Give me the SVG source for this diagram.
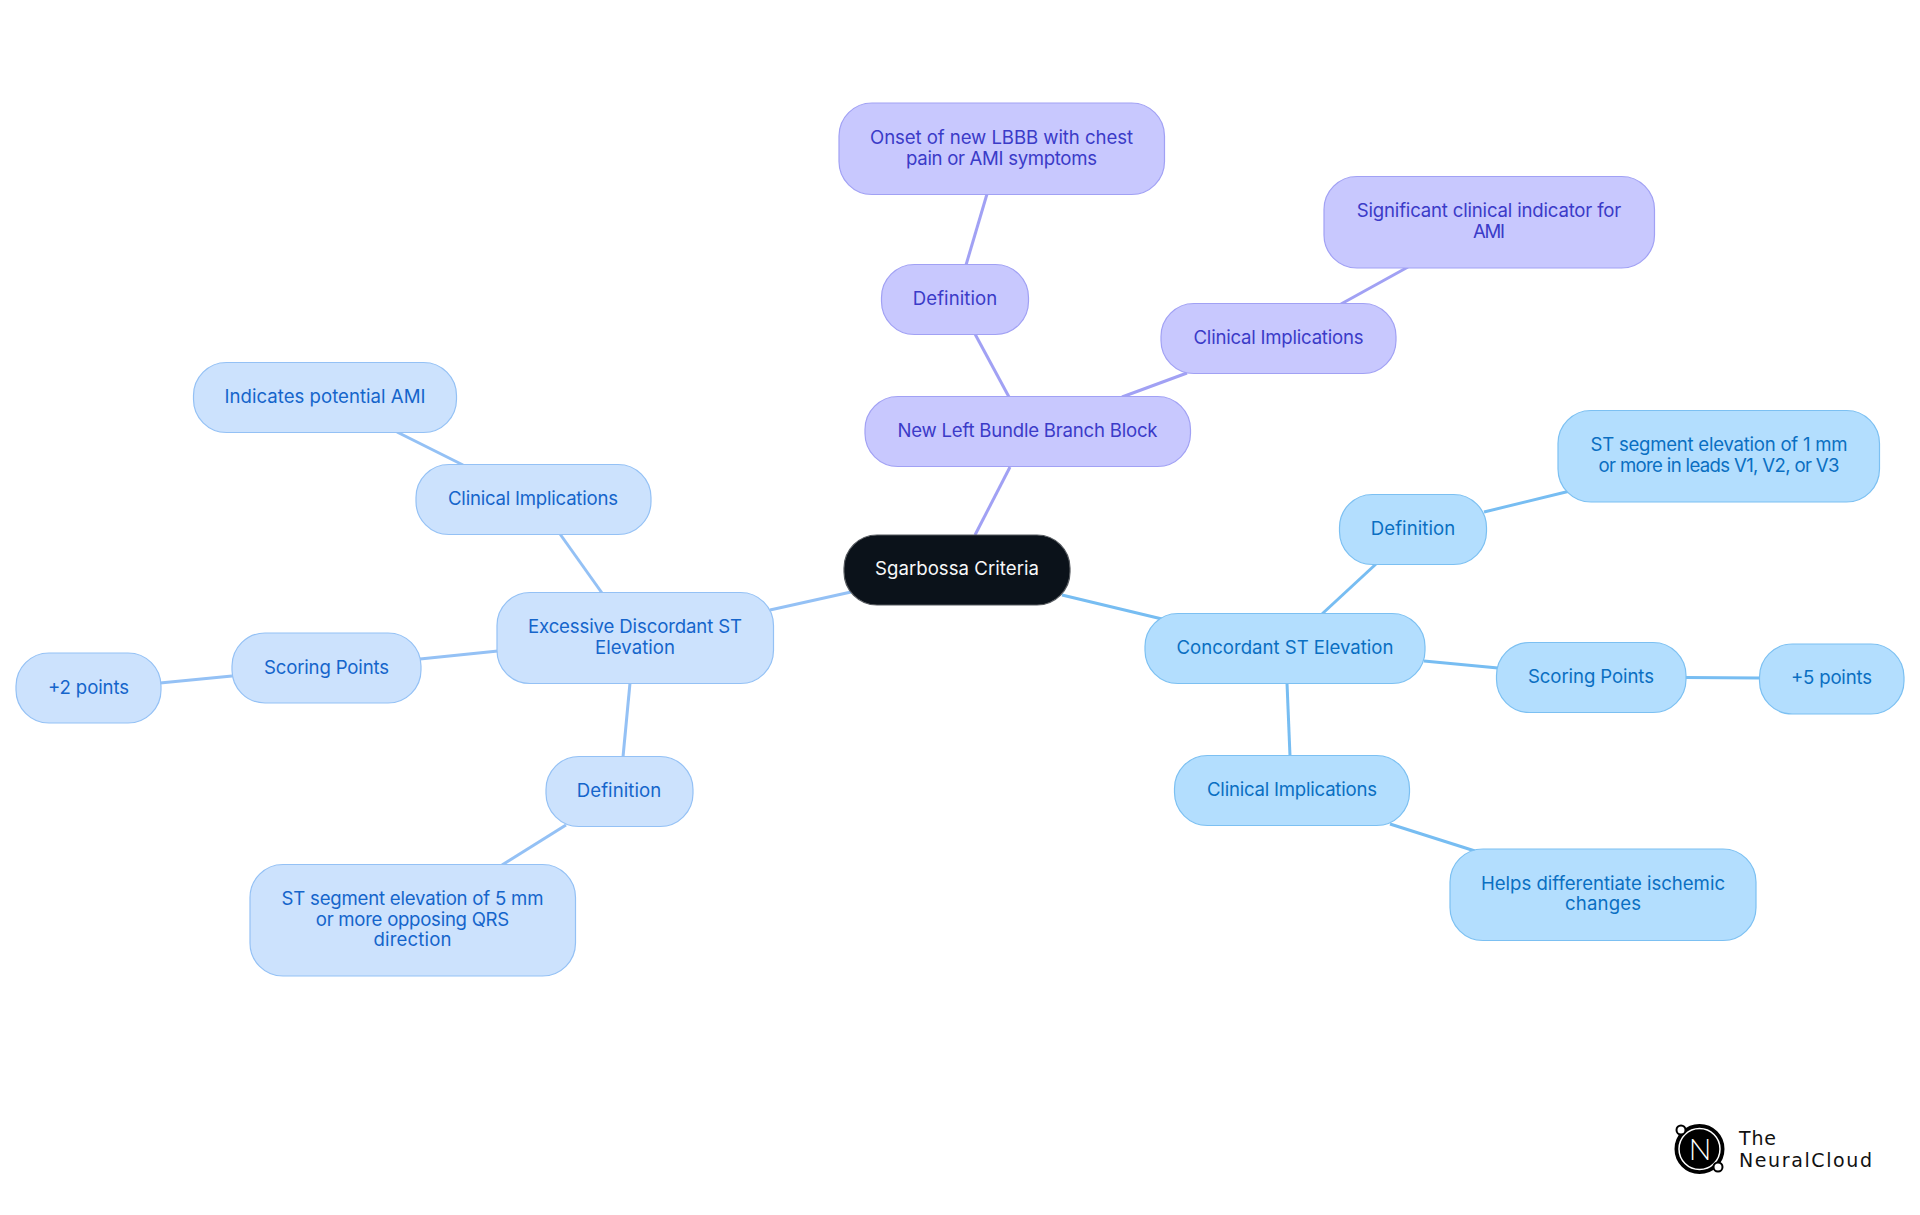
<svg xmlns="http://www.w3.org/2000/svg" width="1920" height="1215" viewBox="0 0 1920 1215">
<style>
text{font-family:"Inter","Noto Sans",sans-serif;font-size:18.6px;text-anchor:middle}
.n rect{stroke-width:1.2}
.p rect{fill:#c8c8fe;stroke:#a1a1f4}.p text{fill:#3b3bc8}
.c rect{fill:#b3defe;stroke:#7cc0f2}.c text{fill:#0a6fc2}
.e rect{fill:#cce2fd;stroke:#94c1f5}.e text{fill:#1565cb}
.r rect{fill:#0b121a;stroke:#55595e}.r text{fill:#f7f8f9}
#connectors line{stroke-width:3;fill:none}
.lp{stroke:#a1a1f4}.lc{stroke:#77bdf2}.le{stroke:#94c1f5}
.logo{fill:#111;font-family:"DejaVu Sans","Lato",sans-serif;font-size:19px}
</style>
<rect width="1920" height="1215" fill="#fff"/>
<g id="connectors">
<line class="lp" x1="975" y1="535" x2="1010" y2="467"/>
<line class="lp" x1="1009" y1="397" x2="975" y2="334"/>
<line class="lp" x1="966" y1="265" x2="987" y2="194"/>
<line class="lp" x1="1122" y1="397" x2="1187" y2="373"/>
<line class="lp" x1="1341" y1="304" x2="1408" y2="267"/>
<line class="lc" x1="1062" y1="595" x2="1162" y2="619"/>
<line class="lc" x1="1322" y1="614" x2="1376" y2="564"/>
<line class="lc" x1="1484" y1="512" x2="1570" y2="491"/>
<line class="lc" x1="1424" y1="661" x2="1498" y2="668"/>
<line class="lc" x1="1685" y1="677.500" x2="1760" y2="678"/>
<line class="lc" x1="1287" y1="683" x2="1290" y2="756"/>
<line class="lc" x1="1390" y1="824" x2="1475" y2="851"/>
<line class="le" x1="851" y1="592" x2="770" y2="610"/>
<line class="le" x1="602" y1="593" x2="560" y2="534"/>
<line class="le" x1="463" y1="465" x2="397" y2="432"/>
<line class="le" x1="498" y1="651" x2="420" y2="659"/>
<line class="le" x1="232" y1="676" x2="160" y2="683"/>
<line class="le" x1="630" y1="683" x2="623" y2="757"/>
<line class="le" x1="566" y1="825" x2="502" y2="865"/>
</g>
<g id="root" class="n r"><rect x="844" y="535" width="226" height="70" rx="33"/><text x="957" y="575" textLength="164">Sgarbossa Criteria</text></g>
<g id="nlbbb" class="n p"><rect x="865" y="396.500" width="325.500" height="70" rx="33"/><text x="1027.500" y="437" textLength="260">New Left Bundle Branch Block</text></g>
<g id="nlbbb-def" class="n p"><rect x="881.500" y="264.500" width="147" height="70" rx="33"/><text x="955" y="305" textLength="84.500">Definition</text></g>
<g id="nlbbb-def-1" class="n p"><rect x="839" y="103" width="325.500" height="91.500" rx="33"/><text x="1001.500" y="144" textLength="263">Onset of new LBBB with chest</text><text x="1001.500" y="165" textLength="191">pain or AMI symptoms</text></g>
<g id="nlbbb-clin" class="n p"><rect x="1161" y="303.500" width="235" height="70" rx="33"/><text x="1278.500" y="344" textLength="170">Clinical Implications</text></g>
<g id="nlbbb-clin-1" class="n p"><rect x="1324" y="176.500" width="330.500" height="91.500" rx="33"/><text x="1489" y="217" textLength="264.500">Significant clinical indicator for</text><text x="1489" y="238" textLength="32">AMI</text></g>
<g id="concordant" class="n c"><rect x="1145" y="613.500" width="280" height="70" rx="33"/><text x="1285" y="654" textLength="217">Concordant ST Elevation</text></g>
<g id="conc-def" class="n c"><rect x="1339.500" y="494.500" width="147" height="70" rx="33"/><text x="1413" y="535" textLength="84.500">Definition</text></g>
<g id="conc-def-1" class="n c"><rect x="1558" y="410.500" width="321.500" height="91.500" rx="33"/><text x="1719" y="451" textLength="257">ST segment elevation of 1 mm</text><text x="1719" y="472" textLength="241">or more in leads V1, V2, or V3</text></g>
<g id="conc-score" class="n c"><rect x="1496.500" y="642.500" width="189.500" height="70" rx="33"/><text x="1591" y="683" textLength="126">Scoring Points</text></g>
<g id="conc-score-1" class="n c"><rect x="1759.500" y="644" width="144.500" height="70" rx="33"/><text x="1831.500" y="684" textLength="81">+5 points</text></g>
<g id="conc-clin" class="n c"><rect x="1174.500" y="755.500" width="235" height="70" rx="33"/><text x="1292" y="796" textLength="170">Clinical Implications</text></g>
<g id="conc-clin-1" class="n c"><rect x="1450" y="849" width="306" height="91.500" rx="33"/><text x="1603" y="890" textLength="244">Helps differentiate ischemic</text><text x="1603" y="910" textLength="76">changes</text></g>
<g id="excessive" class="n e"><rect x="497" y="592.500" width="276.500" height="91" rx="33"/><text x="635" y="633" textLength="214">Excessive Discordant ST</text><text x="635" y="654" textLength="80">Elevation</text></g>
<g id="exc-clin" class="n e"><rect x="416" y="464.500" width="235" height="70" rx="33"/><text x="533" y="505" textLength="170">Clinical Implications</text></g>
<g id="exc-clin-1" class="n e"><rect x="193.500" y="362.500" width="263" height="70" rx="33"/><text x="325" y="403" textLength="201">Indicates potential AMI</text></g>
<g id="exc-score" class="n e"><rect x="232" y="633" width="189" height="70" rx="33"/><text x="326.500" y="674" textLength="125">Scoring Points</text></g>
<g id="exc-score-1" class="n e"><rect x="16" y="653" width="145" height="70" rx="33"/><text x="88.500" y="694" textLength="81">+2 points</text></g>
<g id="exc-def" class="n e"><rect x="546" y="756.500" width="147" height="70" rx="33"/><text x="619" y="797" textLength="84.500">Definition</text></g>
<g id="exc-def-1" class="n e"><rect x="250" y="864.500" width="325.500" height="111.500" rx="33"/><text x="412.500" y="905" textLength="262">ST segment elevation of 5 mm</text><text x="412.500" y="926" textLength="193.500">or more opposing QRS</text><text x="412.500" y="946" textLength="78">direction</text></g>
<g id="logo">
<circle cx="1699.500" cy="1149" r="24" fill="#000" stroke="#000" stroke-width="2"/>
<circle cx="1699.500" cy="1149" r="20.500" fill="#000" stroke="#fff" stroke-width="1.500"/>
<circle cx="1681" cy="1130" r="4.500" fill="#fff" stroke="#000" stroke-width="2"/>
<circle cx="1718" cy="1167" r="4.500" fill="#fff" stroke="#000" stroke-width="2"/>
<text x="1700" y="1160" textLength="23" style="font-size:30px;font-weight:300;fill:#fff;font-family:Lato,sans-serif">N</text>
<text class="logo" x="1739" y="1145" textLength="37" style="text-anchor:start">The</text>
<text class="logo" x="1739" y="1166.500" textLength="133" style="text-anchor:start">NeuralCloud</text>
</g>
</svg>
